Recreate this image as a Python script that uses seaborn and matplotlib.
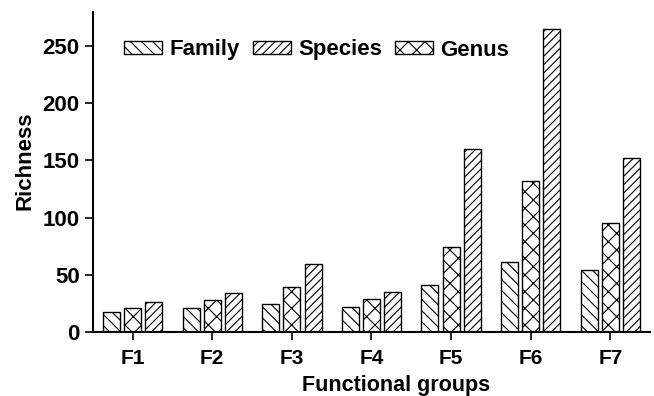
import matplotlib
matplotlib.use("Agg")
import matplotlib.pyplot as plt
from matplotlib.patches import Patch
import seaborn as sns
import pandas as pd

groups = ["F1", "F2", "F3", "F4", "F5", "F6", "F7"]
family = [17, 21, 24, 22, 41, 61, 54]
genus = [21, 28, 39, 29, 74, 132, 95]
species = [26, 34, 59, 35, 160, 265, 152]

levels = ["Family", "Genus", "Species"]
hatches = {"Family": "\\\\\\", "Genus": "xx", "Species": "////"}

df = pd.DataFrame({
    "group": groups * 3,
    "level": ["Family"] * 7 + ["Genus"] * 7 + ["Species"] * 7,
    "richness": family + genus + species,
})

sns.set_style("ticks")
plt.rcParams["font.family"] = ["Liberation Sans", "DejaVu Sans"]
plt.rcParams["font.weight"] = "bold"
plt.rcParams["hatch.linewidth"] = 0.8
plt.rcParams["text.color"] = "black"
plt.rcParams["axes.labelcolor"] = "black"
plt.rcParams["xtick.color"] = "black"
plt.rcParams["ytick.color"] = "black"
plt.rcParams["axes.edgecolor"] = "black"

fig = plt.figure(figsize=(6.54, 3.96), dpi=100)
ax = fig.add_axes([0.142, 0.162, 0.852, 0.808])

sns.barplot(data=df, x="group", y="richness", hue="level", hue_order=levels,
            order=groups, palette=["white"] * 3, edgecolor="black",
            linewidth=1.0, gap=0.2, width=0.8, legend=False, ax=ax)

for container, lvl in zip(ax.containers, levels):
    for bar in container:
        bar.set_hatch(hatches[lvl])
        bar.set_edgecolor("black")

ax.set_xlim(-0.5, 6.5)
ax.set_ylim(0, 280)
ax.set_yticks([0, 50, 100, 150, 200, 250])
ax.set_xlabel("Functional groups", fontsize=15.5, fontweight="bold")
ax.set_ylabel("Richness", fontsize=16, fontweight="bold")
ax.xaxis.set_label_coords(0.544, -0.134)
ax.yaxis.set_label_coords(-0.103, 0.536)
ax.tick_params(axis="y", labelsize=16, width=1.2, length=5.5, pad=4, colors="black")
ax.tick_params(axis="x", labelsize=15, width=1.2, length=5.5, pad=7, colors="black")
for lab in ax.get_xticklabels() + ax.get_yticklabels():
    lab.set_fontweight("bold")
sns.despine(ax=ax)
for s in ("left", "bottom"):
    ax.spines[s].set_linewidth(1.5)

handles = [Patch(facecolor="white", edgecolor="black", hatch=hatches[k], label=k)
           for k in ["Family", "Species", "Genus"]]
ax.legend(handles=handles, loc="center left",
          bbox_to_anchor=(124 / 654, 1 - 50 / 396), bbox_transform=fig.transFigure,
          ncol=3, frameon=False, handlelength=1.71, handleheight=0.54,
          columnspacing=0.6, handletextpad=0.32, borderpad=0, borderaxespad=0,
          prop={"weight": "bold", "size": 16})

fig.savefig("out.png", dpi=100)
